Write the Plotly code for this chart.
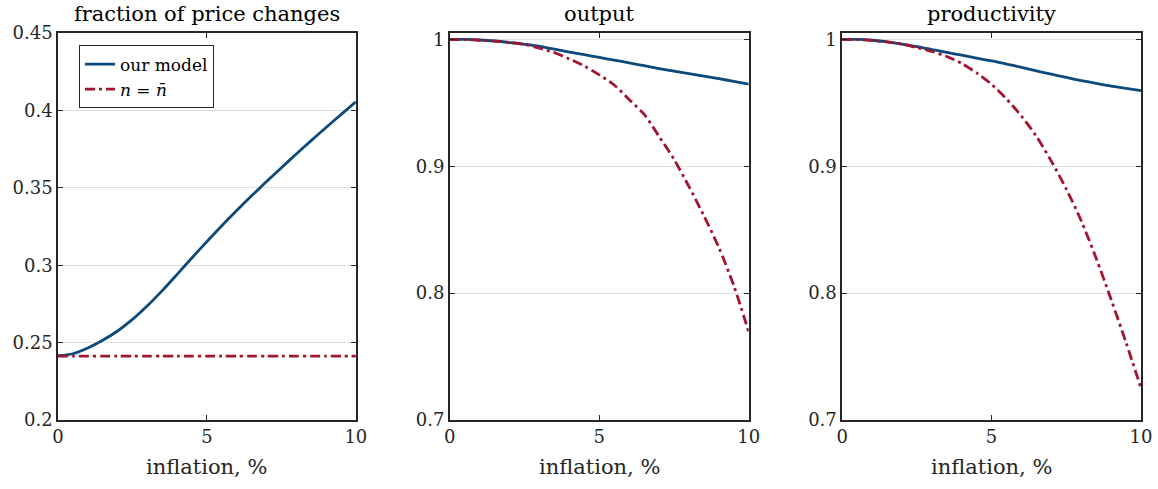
import plotly.graph_objects as go

# ---- data ----
infl_half = [0, 0.5, 1, 1.5, 2, 2.5, 3, 3.5, 4, 4.5, 5, 5.5, 6, 6.5, 7, 7.5, 8, 8.5, 9, 9.5, 10]

frac_model = [0.2415, 0.2428, 0.2465, 0.2515, 0.2575, 0.2650, 0.2738, 0.2836, 0.2941, 0.3048,
              0.3153, 0.3255, 0.3353, 0.3448, 0.3540, 0.3630, 0.3718, 0.3805, 0.3890, 0.3973, 0.4055]
frac_nbar = [0.2413] * len(infl_half)

output_model = [1.0, 0.9999, 0.9995, 0.9987, 0.9975, 0.9961, 0.9945, 0.9923, 0.9900, 0.9879,
                0.9857, 0.9836, 0.9815, 0.9792, 0.9770, 0.9750, 0.9730, 0.9710, 0.9690, 0.9669, 0.9648]
output_nbar = [1.0, 0.9998, 0.9993, 0.9986, 0.9976, 0.9960, 0.9930, 0.9895, 0.9845, 0.9790,
               0.9720, 0.9640, 0.9525, 0.9410, 0.9235, 0.9055, 0.8840, 0.8610, 0.8360, 0.8060, 0.7695]

prod_model = [1.0, 0.9999, 0.9993, 0.9980, 0.9963, 0.9943, 0.9920, 0.9897, 0.9875, 0.9852,
              0.9830, 0.9805, 0.9780, 0.9752, 0.9725, 0.9700, 0.9675, 0.9653, 0.9632, 0.9614, 0.9596]
prod_nbar = [1.0, 0.9998, 0.9992, 0.9980, 0.9962, 0.9935, 0.9905, 0.9865, 0.9810, 0.9735,
             0.9645, 0.9530, 0.9395, 0.9235, 0.9040, 0.8820, 0.8570, 0.8275, 0.7950, 0.7610, 0.7252]

titles = ["fraction of price changes", "output", "productivity"]
xlabel = "inflation, %"
legend_names = ["our model", "<i>n</i> = <i>n̄</i>"]

BLUE = "#0b4a7a"
RED = "#a2142f"
AX = "#262626"
FONT = "DejaVu Serif"
DASHDOT = "10px,4px,3px,4px"

fig = go.Figure()

series = [(frac_model, frac_nbar), (output_model, output_nbar), (prod_model, prod_nbar)]
for i, (m, nb) in enumerate(series):
    xa = "x" if i == 0 else f"x{i+1}"
    ya = "y" if i == 0 else f"y{i+1}"
    fig.add_trace(go.Scatter(x=infl_half, y=m, mode="lines", line=dict(color=BLUE, width=2.8, shape="spline", smoothing=0.8),
                             name=legend_names[0], showlegend=(i == 0), xaxis=xa, yaxis=ya))
    fig.add_trace(go.Scatter(x=infl_half, y=nb, mode="lines", line=dict(color=RED, width=2.8, dash=DASHDOT, shape="spline", smoothing=0.8),
                             name=legend_names[1], showlegend=(i == 0), xaxis=xa, yaxis=ya))

W, H = 1158, 489
ML, MR, MT, MB = 58, 16.5, 32.5, 69
PW, PH = W - ML - MR, H - MT - MB
xdoms_px = [(58, 356), (450, 749), (842.5, 1141.5)]
xdoms = [((a - ML) / PW, (b - ML) / PW) for a, b in xdoms_px]

common_x = dict(range=[0, 10], tickvals=[0, 5, 10], ticktext=["0", "5", "10"], ticks="inside", ticklen=5,
                tickcolor=AX, tickwidth=1, showline=True, linecolor=AX, linewidth=1.5, mirror="ticks",
                showgrid=False, zeroline=False, automargin=False,
                tickfont=dict(family=FONT, size=18, color=AX))
common_y = dict(ticks="inside", ticklen=5, tickcolor=AX, tickwidth=1, showline=True, linecolor=AX, linewidth=1.5,
                mirror="ticks", showgrid=True, gridcolor="#dedede", gridwidth=1, zeroline=False, automargin=False,
                tickfont=dict(family=FONT, size=18, color=AX))

layout = dict(width=W, height=H, margin=dict(l=ML, r=MR, t=MT, b=MB, autoexpand=False),
              paper_bgcolor="white", plot_bgcolor="white", font=dict(family=FONT, color=AX))
for i, (a, b) in enumerate(xdoms):
    sfx = "" if i == 0 else str(i + 1)
    xax = dict(common_x, domain=[a, b], anchor="y" + sfx)
    if i == 0:
        yax = dict(common_y, domain=[0, 1], anchor="x", range=[0.2, 0.45],
                   tickvals=[0.2, 0.25, 0.3, 0.35, 0.4, 0.45],
                   ticktext=["0.2", "0.25", "0.3", "0.35", "0.4", "0.45"])
    else:
        yax = dict(common_y, domain=[0, 1], anchor="x" + sfx, range=[0.7, 1.005],
                   tickvals=[0.7, 0.8, 0.9, 1.0], ticktext=["0.7", "0.8", "0.9", "1"])
    layout["xaxis" + sfx] = xax
    layout["yaxis" + sfx] = yax

annotations = []
for i, (a, b) in enumerate(xdoms_px):
    cx = (a + b) / 2
    annotations.append(dict(text=titles[i], x=(cx - ML) / PW, y=(H - 13 - MB) / PH, xref="paper", yref="paper",
                            xanchor="center", yanchor="middle", showarrow=False,
                            font=dict(family=FONT, size=21, color="black")))
    annotations.append(dict(text=xlabel, x=(cx - ML) / PW, y=(H - 467 - MB) / PH, xref="paper", yref="paper",
                            xanchor="center", yanchor="middle", showarrow=False,
                            font=dict(family=FONT, size=21, color=AX)))
layout["annotations"] = annotations
layout["legend"] = dict(x=(79 - ML) / PW, y=(H - 45 - MB) / PH, xanchor="left", yanchor="top", bgcolor="white",
                        bordercolor=AX, borderwidth=1, font=dict(family=FONT, size=17, color="black"),
                        tracegroupgap=0, itemwidth=30)
fig.update_layout(**layout)

fig.write_html("out.html", config={"displayModeBar": False},
               post_script="document.body.style.margin='0';document.body.style.overflow='hidden';")
